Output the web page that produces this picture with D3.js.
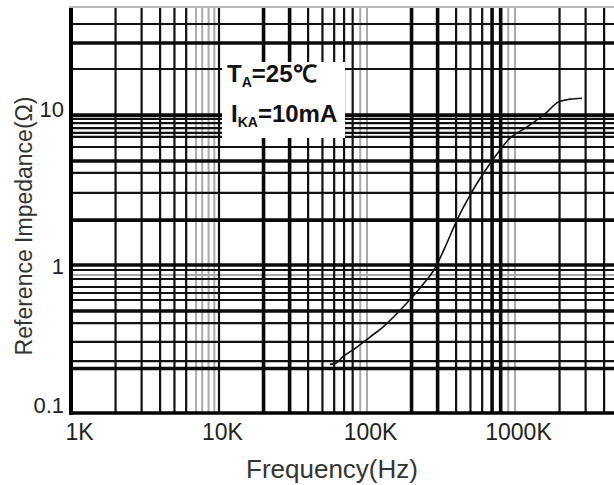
<!DOCTYPE html>
<html>
<head>
<meta charset="utf-8">
<script src="https://cdn.jsdelivr.net/npm/d3@7"></script>
<style>
  html, body { margin: 0; padding: 0; background: #fff; }
  svg { display: block; }
</style>
</head>
<body>
<script>
// ---- data ----
const xTicks = [1e3, 1e4, 1e5, 1e6];
const xTickLabels = ["1K", "10K", "100K", "1000K"];
const yTicks = [0.1, 1, 10];
const yTickLabels = ["0.1", "1", "10"];

// measured curve: frequency (Hz) vs reference impedance (ohm)
const freq = [56200, 62000, 68800, 85600, 104800, 128000, 186000, 228000, 288000, 337000, 405000,
              497000, 647000, 792000, 897000, 1205000, 1645000, 1953000, 2354000, 2837000];
const impedance = [0.213, 0.218, 0.240, 0.279, 0.326, 0.381, 0.554, 0.70, 0.954, 1.32, 2.01,
                   2.97, 4.52, 5.98, 6.99, 8.56, 10.8, 12.6, 13.2, 13.4];

// grid lines of the scanned chart paper
const xGridThin = [2e3, 3e3, 4e3, 5e3, 6e3, 1e4, 4e4, 5e4, 6e4, 7e4, 8e4,
                   4e5, 5e5, 6e5, 2e6, 3e6, 4e6];
const xGridThick = [2e4, 3e4, 2e5, 3e5, 7e5, 8e5];
const xGridGray = [7e3, 7.7e3, 8.5e3, 9.3e3, 9e4, 1e5, 9e5, 1e6];
const yGridThin = [42.5, 21.1, 9.7, 9.1, 8.42, 7.8, 7.33, 6.27, 4.19, 3.07,
                   0.925, 0.804, 0.71, 0.647, 0.58, 0.405, 0.302, 0.224];
const yGridThick = [31.6, 10.3, 5.04, 2.01, 1, 0.489, 0.2];
const yGridGray = [0.856];

const conditionLines = [
  { main: "T", sub: "A", rest: "=25℃" },
  { main: "I", sub: "KA", rest: "=10mA" }
];
const xTitle = "Frequency(Hz)";
const yTitle = "Reference Impedance(Ω)";

// ---- layout ----
const W = 614, H = 485;
const pLeft = 71, pTop = 8, pBottom = 413, pRight = 614;

const svg = d3.select("body").append("svg")
  .attr("width", W).attr("height", H)
  .attr("viewBox", `0 0 ${W} ${H}`);

const x = d3.scaleLog().domain([1e3, 1e6]).range([pLeft, pLeft + 444]);
const y = d3.scaleLog().domain([0.1, 10]).range([pBottom, pBottom - 296]);

const grid = svg.append("g");

// top edge (cropped paper border)
grid.append("line")
  .attr("x1", pLeft - 2).attr("x2", pRight).attr("y1", pTop - 1).attr("y2", pTop - 1)
  .attr("stroke", "#bbb").attr("stroke-width", 2);

function vLines(vals, color, width) {
  grid.selectAll(null).data(vals).enter().append("line")
    .attr("x1", d => x(d)).attr("x2", d => x(d))
    .attr("y1", pTop).attr("y2", pBottom)
    .attr("stroke", color).attr("stroke-width", width);
}
function hLines(vals, color, width) {
  grid.selectAll(null).data(vals).enter().append("line")
    .attr("x1", pLeft).attr("x2", pRight)
    .attr("y1", d => y(d)).attr("y2", d => y(d))
    .attr("stroke", color).attr("stroke-width", width);
}

vLines(xGridGray, "#aaa", 2);
hLines(yGridGray, "#aaa", 2);
vLines(xGridThin, "#111", 2.2);
hLines(yGridThin, "#111", 2.2);
vLines(xGridThick, "#0a0a0a", 3.6);
hLines(yGridThick, "#0a0a0a", 3.6);

// frame: left and bottom border
grid.append("line").attr("x1", pLeft).attr("x2", pLeft).attr("y1", pTop).attr("y2", pBottom + 2)
  .attr("stroke", "#000").attr("stroke-width", 4);
grid.append("line").attr("x1", pLeft).attr("x2", pRight).attr("y1", pBottom).attr("y2", pBottom)
  .attr("stroke", "#000").attr("stroke-width", 3.6);

// condition box (white, masks grid)
svg.append("rect")
  .attr("x", 222).attr("y", 62).attr("width", 123).attr("height", 76)
  .attr("fill", "#fff");

const cond = svg.append("g")
  .attr("font-family", "Liberation Sans, Arial, sans-serif")
  .attr("font-weight", "bold").attr("fill", "#111");
conditionLines.forEach((c, i) => {
  const t = cond.append("text")
    .attr("x", i === 0 ? 227 : 231)
    .attr("y", i === 0 ? 82 : 122)
    .attr("font-size", 24);
  t.append("tspan").text(c.main);
  t.append("tspan").attr("font-size", 14).attr("dy", 5).text(c.sub);
  t.append("tspan").attr("dy", -5).text(c.rest);
});

// curve
const line = d3.line()
  .x((d, i) => x(freq[i]))
  .y(d => y(d))
  .curve(d3.curveMonotoneX);
svg.append("path")
  .datum(impedance)
  .attr("d", line)
  .attr("fill", "none")
  .attr("stroke", "#111")
  .attr("stroke-width", 1.6);

// axes
const xAxis = svg.append("g")
  .attr("transform", `translate(0,${pBottom})`)
  .call(d3.axisBottom(x).tickValues(xTicks).tickFormat((d, i) => xTickLabels[i])
    .tickSize(0).tickPadding(11));
xAxis.select(".domain").remove();
xAxis.selectAll("text")
  .attr("font-family", "Liberation Sans, Arial, sans-serif")
  .attr("font-size", 23).attr("fill", "#222")
  .attr("dx", (d, i) => i === 0 ? 8 : 3);

const yAxis = svg.append("g")
  .attr("transform", `translate(${pLeft},0)`)
  .call(d3.axisLeft(y).tickValues(yTicks).tickFormat((d, i) => yTickLabels[i])
    .tickSize(0).tickPadding(7));
yAxis.select(".domain").remove();
yAxis.selectAll("text")
  .attr("font-family", "Liberation Sans, Arial, sans-serif")
  .attr("font-size", 22).attr("fill", "#222")
  .attr("transform", (d, i) => `translate(0,${[-8, 1, -8][i]})`);

// titles
svg.append("text")
  .attr("x", 332).attr("y", 478)
  .attr("text-anchor", "middle")
  .attr("font-family", "Liberation Sans, Arial, sans-serif")
  .attr("font-size", 26).attr("fill", "#333")
  .text(xTitle);

svg.append("text")
  .attr("transform", "translate(32,226) rotate(-90)")
  .attr("text-anchor", "middle")
  .attr("font-family", "Liberation Sans, Arial, sans-serif")
  .attr("font-size", 23).attr("fill", "#333")
  .text(yTitle);
</script>
</body>
</html>
